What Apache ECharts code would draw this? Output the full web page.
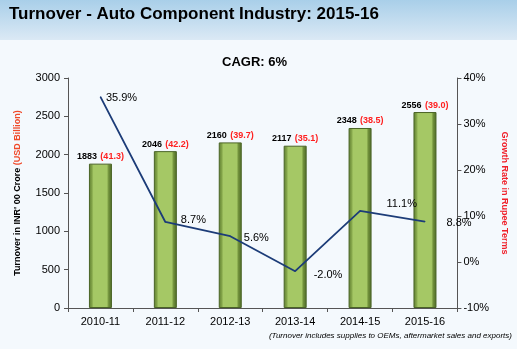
<!DOCTYPE html>
<html>
<head>
<meta charset="utf-8">
<style>
  html, body { margin: 0; padding: 0; background: #f4f9fd; }
  #chart { width: 517px; height: 349px; }
</style>
<script src="https://cdn.jsdelivr.net/npm/echarts@6/dist/echarts.min.js"></script>
</head>
<body>
<div id="chart"></div>
<script>
// Fiscal years on the category axis
const years = ['2010-11', '2011-12', '2012-13', '2013-14', '2014-15', '2015-16'];
// Turnover in INR '00 crore
const turnoverInr = [1883, 2046, 2160, 2117, 2348, 2556];
// Turnover in USD billion
const turnoverUsd = [41.3, 42.2, 39.7, 35.1, 38.5, 39.0];
// Year-on-year growth rate in rupee terms (%)
const growthRate = [35.9, 8.7, 5.6, -2.0, 11.1, 8.8];

const chart = echarts.init(document.getElementById('chart'), null, { renderer: 'canvas' });

const FONT = 'Arial, "Liberation Sans", sans-serif';

const barColor = new echarts.graphic.LinearGradient(0, 0, 1, 0, [
  { offset: 0.00, color: '#5f7f32' },
  { offset: 0.12, color: '#7fa046' },
  { offset: 0.20, color: '#a5c865' },
  { offset: 0.78, color: '#a5c865' },
  { offset: 0.86, color: '#6f8f3a' },
  { offset: 1.00, color: '#4e6a28' }
]);

// Label nudges for each growth point (all placed to the right)
const growthLabelOffset = [
  [0, 1],
  [10, -2],
  [8, 2],
  [13, 4],
  [21, -7],
  [16, 1]
];

const option = {
  backgroundColor: '#f4f9fd',
  animation: false,
  graphic: [
    {
      type: 'rect',
      left: 0, top: 0, z: -10,
      shape: { width: 517, height: 40 },
      style: {
        fill: new echarts.graphic.LinearGradient(0, 0, 0, 1, [
          { offset: 0, color: '#a9cfe9' },
          { offset: 1, color: '#dbe9f5' }
        ])
      }
    },
    {
      type: 'text',
      left: 9, top: 6,
      style: {
        text: 'Turnover - Auto Component Industry: 2015-16',
        font: 'bold 17px ' + FONT,
        fill: '#000'
      }
    },
    {
      type: 'text',
      left: 222, top: 56,
      style: {
        text: 'CAGR: 6%',
        font: 'bold 13px ' + FONT,
        fill: '#000'
      }
    },
    {
      type: 'text',
      right: 5, top: 332,
      style: {
        text: '(Turnover includes supplies to OEMs, aftermarket sales and exports)',
        font: 'italic 8px ' + FONT,
        fill: '#000'
      }
    }
  ],
  grid: { left: 68, right: 49, top: 78, bottom: 41 },
  xAxis: {
    type: 'category',
    data: years,
    axisLine: { lineStyle: { color: '#555', width: 1 } },
    axisTick: { show: true, alignWithLabel: false, length: 4, lineStyle: { color: '#555' } },
    axisLabel: { color: '#000', fontSize: 11, fontFamily: FONT, margin: 8 }
  },
  yAxis: [
    {
      type: 'value',
      min: 0, max: 3000, interval: 500,
      splitLine: { show: false },
      axisLine: { show: true, lineStyle: { color: '#555' } },
      axisTick: { show: true, length: 4, lineStyle: { color: '#555' } },
      axisLabel: { color: '#000', fontSize: 11, fontFamily: FONT, margin: 8, formatter: (v) => String(v) },
      name: '{a|Turnover in INR\' 00 Crore }{b|(USD Billion)}',
      nameLocation: 'middle',
      nameGap: 46,
      nameRotate: 90,
      nameTextStyle: {
        rich: {
          a: { fontSize: 9, fontWeight: 'bold', color: '#000', fontFamily: FONT },
          b: { fontSize: 9, fontWeight: 'bold', color: '#f04a2a', fontFamily: FONT }
        }
      }
    },
    {
      type: 'value',
      min: -10, max: 40, interval: 10,
      position: 'right',
      splitLine: { show: false },
      axisLine: { show: true, lineStyle: { color: '#555' } },
      axisTick: { show: true, length: 4, lineStyle: { color: '#555' } },
      axisLabel: { color: '#000', fontSize: 11, fontFamily: FONT, margin: 6, formatter: '{value}%' },
      name: 'Growth Rate in Rupee Terms',
      nameLocation: 'middle',
      nameGap: 32,
      nameRotate: -90,
      nameTextStyle: { fontSize: 9, fontWeight: 'bold', color: '#f0202a', fontFamily: FONT }
    }
  ],
  series: [
    {
      type: 'bar',
      yAxisIndex: 0,
      data: turnoverInr,
      barWidth: 23,
      itemStyle: { color: barColor, borderColor: '#4a6426', borderWidth: 1 },
      label: {
        show: true,
        position: 'top',
        distance: 1,
        formatter: (p) => '{v|' + p.value + '} {u|(' + turnoverUsd[p.dataIndex].toFixed(1) + ')}',
        rich: {
          v: { fontSize: 9, fontWeight: 'bold', color: '#000', fontFamily: FONT },
          u: { fontSize: 9, fontWeight: 'bold', color: '#ff2020', fontFamily: FONT }
        }
      },
      z: 2
    },
    {
      type: 'line',
      yAxisIndex: 1,
      data: growthRate,
      symbol: 'circle',
      symbolSize: 1,
      showSymbol: true,
      itemStyle: { color: '#1c3c78' },
      lineStyle: { color: '#1c3c78', width: 1.8 },
      label: {
        show: true,
        position: 'right',
        formatter: (p) => growthRate[p.dataIndex].toFixed(1) + '%',
        color: '#000',
        fontSize: 11,
        fontFamily: FONT
      },
      labelLayout: (p) => ({
        dx: growthLabelOffset[p.dataIndex][0],
        dy: growthLabelOffset[p.dataIndex][1],
        hideOverlap: false
      }),
      z: 5
    }
  ]
};

chart.setOption(option);
</script>
</body>
</html>
